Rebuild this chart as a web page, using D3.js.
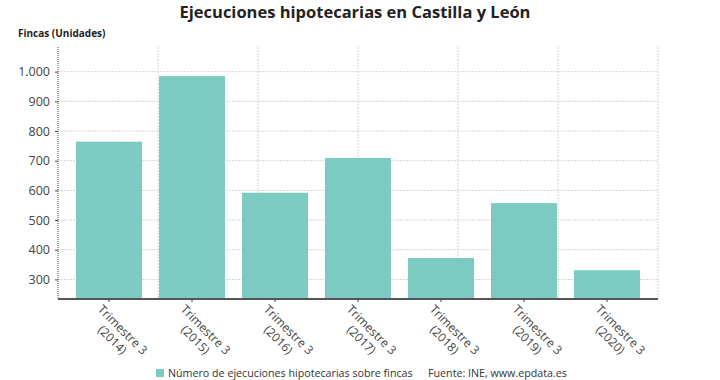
<!DOCTYPE html>
<html><head><meta charset="utf-8">
<script src="https://cdn.jsdelivr.net/npm/d3@7"></script>
<style>body{margin:0;background:#fff}svg{display:block;font-family:"Open Sans",sans-serif}</style>
</head><body><div id="c"></div>
<script>
const categories = ["Trimestre 3|(2014)","Trimestre 3|(2015)","Trimestre 3|(2016)","Trimestre 3|(2017)","Trimestre 3|(2018)","Trimestre 3|(2019)","Trimestre 3|(2020)"];
const values = [764, 985, 592, 709, 372, 557, 331];
const yTicks = [300, 400, 500, 600, 700, 800, 900, 1000];
const title = "Ejecuciones hipotecarias en Castilla y León";
const yTitle = "Fincas (Unidades)";
const seriesName = "Número de ejecuciones hipotecarias sobre fincas";
const source = "Fuente: INE, www.epdata.es";

const W = 720, H = 380;
const m = {l: 58, r: 62, t: 47, b: 81};
const svg = d3.select("#c").append("svg").attr("width", W).attr("height", H);

const x = d3.scaleBand().domain(categories).range([m.l, W - m.r]).paddingInner(0.205).paddingOuter(0.217);
const y = d3.scaleLinear().domain([234, 1083]).range([H - m.b, m.t]);
const xg = d3.scaleLinear().domain([0, 6]).range([m.l, W - m.r]);

// grid
svg.append("g").selectAll("line.h").data(yTicks).join("line")
  .attr("x1", m.l).attr("x2", W - m.r).attr("y1", d => y(d)).attr("y2", d => y(d))
  .attr("stroke", "#d6d6d6").attr("stroke-width", 1).attr("stroke-dasharray", "2,1");
svg.append("g").selectAll("line.v").data(d3.range(1, 7)).join("line")
  .attr("x1", d => xg(d)).attr("x2", d => xg(d)).attr("y1", m.t).attr("y2", H - m.b)
  .attr("stroke", "#d6d6d6").attr("stroke-width", 1).attr("stroke-dasharray", "2,1");

// bars
svg.append("g").selectAll("rect").data(values).join("rect")
  .attr("x", (d, i) => x(categories[i])).attr("width", x.bandwidth())
  .attr("y", d => y(d)).attr("height", d => y(234) - y(d))
  .attr("fill", "#7ccbc2");

// y axis
const ya = svg.append("g").attr("transform", `translate(${m.l},0)`)
  .call(d3.axisLeft(y).tickValues(yTicks).tickSize(3).tickPadding(5)
    .tickFormat(d => d3.format(",")(d).replace(/,/g, ".")));
ya.select(".domain").attr("stroke", "#444").attr("stroke-dasharray", "1,1").attr("d", `M0,${m.t}V${H - m.b}`);
ya.selectAll(".tick line").attr("stroke", "#444");
ya.selectAll("text").attr("fill", "#444").attr("font-size", 12.5).attr("font-family", "Open Sans");

// x axis
const xa = svg.append("g").attr("transform", `translate(0,${H - m.b})`)
  .call(d3.axisBottom(x).tickSize(3).tickFormat(""));
xa.select(".domain").attr("stroke", "#555").attr("stroke-width", 2).attr("d", `M${m.l},0H${W - m.r}`);
xa.selectAll(".tick line").attr("stroke", "#444");
xa.selectAll(".tick").each(function(d) {
  const parts = d.split("|");
  const t = d3.select(this).append("text")
    .attr("transform", "translate(-6,5) rotate(45)")
    .attr("text-anchor", "middle").attr("fill", "#444").attr("font-size", 12).attr("font-family", "Open Sans");
  const s1 = t.append("tspan").attr("x", 0).attr("dy", "0.71em").text(parts[0]);
  const s2 = t.append("tspan").attr("x", 0).attr("dy", "1.2em").text(parts[1]);
  const w1 = s1.node().getComputedTextLength();
  s1.attr("x", w1 / 2); s2.attr("x", w1 / 2);
});

// titles
svg.append("text").attr("x", 355).attr("y", 18).attr("text-anchor", "middle")
  .attr("font-weight", 700).attr("font-size", 16.5).attr("fill", "#222").text(title);
svg.append("text").attr("x", 18).attr("y", 37).attr("font-weight", 700)
  .attr("font-size", 10).attr("fill", "#222").text(yTitle);

// legend
svg.append("rect").attr("x", 156).attr("y", 369).attr("width", 8).attr("height", 8).attr("fill", "#7ccbc2");
svg.append("text").attr("x", 168).attr("y", 377).attr("font-size", 10.7).attr("fill", "#333").text(seriesName);
svg.append("text").attr("x", 428).attr("y", 377).attr("font-size", 10.7).attr("fill", "#333").text(source);
</script></body></html>
